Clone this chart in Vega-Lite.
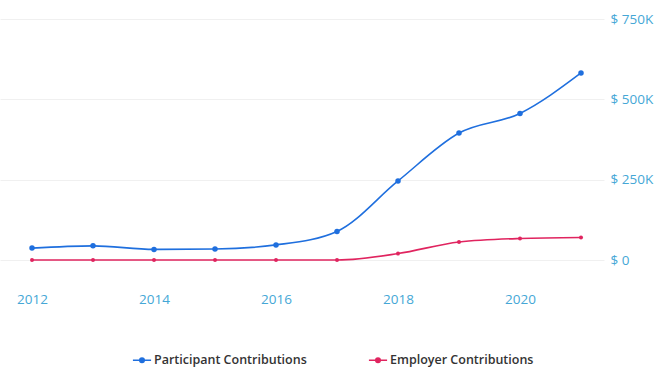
{
  "$schema": "https://vega.github.io/schema/vega-lite/v6.json",
  "width": 604,
  "height": 241,
  "autosize": {"type": "none"},
  "padding": {"left": 0, "top": 19, "right": 64, "bottom": 109},
  "background": "white",
  "config": {
    "view": {"stroke": null},
    "font": "Open Sans",
    "axis": {"labelFont": "Open Sans", "labelColor": "#45a7d6", "labelFontSize": 13.5}
  },
  "data": {
    "values": [
      {"year": 2012, "series": "Participant Contributions", "amount": 37000},
      {"year": 2013, "series": "Participant Contributions", "amount": 44000},
      {"year": 2014, "series": "Participant Contributions", "amount": 33000},
      {"year": 2015, "series": "Participant Contributions", "amount": 34000},
      {"year": 2016, "series": "Participant Contributions", "amount": 47000},
      {"year": 2017, "series": "Participant Contributions", "amount": 89000},
      {"year": 2018, "series": "Participant Contributions", "amount": 246000},
      {"year": 2019, "series": "Participant Contributions", "amount": 395000},
      {"year": 2020, "series": "Participant Contributions", "amount": 456000},
      {"year": 2021, "series": "Participant Contributions", "amount": 582000},
      {"year": 2012, "series": "Employer Contributions", "amount": 0},
      {"year": 2013, "series": "Employer Contributions", "amount": 0},
      {"year": 2014, "series": "Employer Contributions", "amount": 0},
      {"year": 2015, "series": "Employer Contributions", "amount": 0},
      {"year": 2016, "series": "Employer Contributions", "amount": 0},
      {"year": 2017, "series": "Employer Contributions", "amount": 0},
      {"year": 2018, "series": "Employer Contributions", "amount": 20000},
      {"year": 2019, "series": "Employer Contributions", "amount": 56000},
      {"year": 2020, "series": "Employer Contributions", "amount": 67000},
      {"year": 2021, "series": "Employer Contributions", "amount": 70000}
    ]
  },
  "encoding": {
    "x": {
      "field": "year",
      "type": "quantitative",
      "scale": {"domain": [2011.475, 2021.377], "nice": false, "zero": false},
      "axis": {
        "title": null,
        "values": [2012, 2014, 2016, 2018, 2020],
        "format": "d",
        "grid": false,
        "domain": false,
        "ticks": false,
        "offset": 28,
        "labelPadding": 4
      }
    },
    "y": {
      "field": "amount",
      "type": "quantitative",
      "scale": {"domain": [0, 750000], "nice": false},
      "axis": {
        "title": null,
        "orient": "right",
        "values": [0, 250000, 500000, 750000],
        "labelExpr": "datum.value == 0 ? '$ 0' : '$ ' + (datum.value / 1000) + 'K'",
        "domain": false,
        "ticks": false,
        "labelPadding": 6,
        "gridColor": "#f0f0f0",
        "gridWidth": 1
      }
    },
    "color": {
      "field": "series",
      "type": "nominal",
      "scale": {
        "domain": ["Participant Contributions", "Employer Contributions"],
        "range": ["#1f6fde", "#e0245f"]
      },
      "legend": {
        "title": null,
        "orient": "none",
        "direction": "horizontal",
        "legendX": 132,
        "legendY": 331,
        "columnPadding": 58,
        "labelFontSize": 12.5,
        "labelFontWeight": 600,
        "labelColor": "#333333",
        "labelFont": "Open Sans",
        "symbolType": "M-1,0H1M0.25,0A0.25,0.25 0 1,1 -0.25,0A0.25,0.25 0 1,1 0.25,0",
        "symbolSize": 330,
        "symbolStrokeWidth": 1.5,
        "labelOffset": 2,
        "encode": {
          "symbols": {
            "update": {
              "size": {"value": 330},
              "stroke": {"field": "value", "scale": "color"},
              "fill": {"field": "value", "scale": "color"},
              "strokeOpacity": {"value": 1},
              "fillOpacity": {"value": 1}
            }
          }
        }
      }
    }
  },
  "layer": [
    {
      "mark": {"type": "line", "interpolate": "monotone", "strokeWidth": 1.6}
    },
    {
      "mark": {"type": "point", "filled": true, "opacity": 1},
      "encoding": {
        "size": {
          "condition": {"test": "datum.series == 'Employer Contributions'", "value": 16},
          "value": 30
        }
      }
    }
  ]
}
